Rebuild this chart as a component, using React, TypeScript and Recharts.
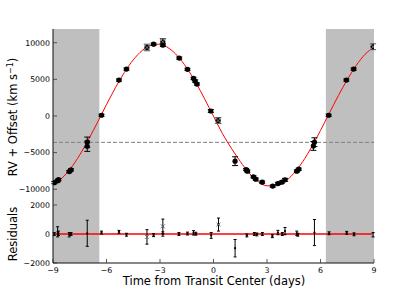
import React from 'react';
import { ComposedChart, Line, Scatter, XAxis, YAxis, ErrorBar, ReferenceLine, ReferenceArea } from 'recharts';

// axes
const xTicks = [-9, -6, -3, 0, 3, 6, 9];
const rvTicks = [-10000, -5000, 0, 5000, 10000];
const resTicks = [-2000, -1000, 0, 1000, 2000];
const xDomain = [-9, 9];
const rvDomain = [-12150, 11870];
const resDomain = [-2000, 2000];
const shadeRanges = [[-9, -6.4], [6.3, 9]];
const systemicRv = -3600;

// fitted model curve (days, km/s)
const modelTime = [-9, -8.5, -8, -7.5, -7, -6.5, -6, -5.5, -5, -4.5, -4, -3.5, -3, -2.5, -2, -1.5, -1, -0.5, 0,
  0.5, 1, 1.5, 2, 2.5, 3, 3.5, 4, 4.5, 5, 5.5, 6, 6.5, 7, 7.5, 8, 8.5, 9];
const modelRv = [-9334, -8483, -7118, -5311, -3176, -842, 1549, 3853, 5932, 7658, 8929, 9665, 9800, 9240, 8148,
  6560, 4597, 2344, -30, -2401, -4400, -6203, -7808, -8942, -9532, -9536, -8960, -7842, -6250, -4237, -1974,
  405, 2768, 4954, 6885, 8416, 9398];

// observations (filled circles)
const rvTime = [-8.93, -8.74, -8.69, -8.09, -7.99, -7.08, -7.08, -6.28, -5.3, -4.88, -3.36, -2.84, -1.92, -1.46,
  -1.12, -1.03, -0.93, -0.15, 1.21, 1.83, 1.9, 2.24, 2.37, 2.73, 3.32, 3.61, 3.83, 4.01, 4.67, 4.78, 5.6, 5.66,
  6.46, 7.45, 7.86];
const rv = [-9100, -8850, -8680, -7590, -7350, -4130, -3580, 100, 4900, 6400, 9800, 9670, 7900, 6360, 5130,
  4770, 4360, 680, -6170, -7310, -7530, -8300, -8620, -9030, -9570, -9220, -9030, -8720, -7530, -7260, -4090,
  -3580, 100, 4900, 6400];
const rvErr = [150, 150, 150, 150, 150, 700, 700, 150, 150, 150, 150, 200, 150, 150, 150, 150, 150, 200, 600,
  150, 150, 150, 150, 150, 150, 150, 150, 200, 150, 150, 600, 600, 150, 150, 150];

// observations (cross markers)
const crossTime = [-3.73, -2.84, 0.26, 8.95];
const crossRv = [9350, 10120, -620, 9450];
const crossErr = [450, 450, 400, 400];

// residuals
const resTime = [-8.93, -8.74, -8.69, -8.09, -7.99, -7.08, -6.28, -5.3, -4.88, -3.36, -2.84, -1.94, -1.46, -1.12,
  -0.99, -0.13, 1.21, 1.87, 2.29, 2.43, 2.74, 3.3, 3.61, 3.86, 4.01, 4.67, 4.73, 5.66, 6.48, 7.47, 7.88];
const res = [0, 150, 50, -50, 0, 50, 100, 150, -50, -80, 0, 0, 30, 80, 20, -100, -980, -100, 0, -30, 0, -150,
  100, 0, 200, 50, -50, 100, 50, 80, -20];
const resErr = [100, 350, 150, 150, 100, 900, 100, 100, 100, 100, 150, 100, 100, 150, 100, 200, 600, 100, 100,
  100, 100, 100, 150, 100, 250, 150, 100, 900, 100, 100, 100];
const crossResTime = [-3.73, -2.84, 0.28, 8.95];
const crossRes = [-200, 530, 650, -50];
const crossResErr = [500, 500, 450, 150];

const pts = (t: number[], v: number[], e?: number[]) => t.map((x, i) => ({ t: x, v: v[i], err: e ? e[i] : 0 }));

const FONT = '"DejaVu Sans", sans-serif';
const SPINE = { stroke: '#111', strokeWidth: 1 };
const TICK = '#333';
const fmt = (v: number) => (v < 0 ? '\u2212' + Math.abs(v) : String(v));

const LeftTick = (p: any) => (
  <g>
    <line x1={p.x + 3} x2={p.x + 7} y1={p.y} y2={p.y} stroke={TICK} strokeWidth={0.8} />
    <text x={p.x} y={p.y} dy={2.8} textAnchor="end" fontSize={7.8} fontFamily={FONT} fill="#000">
      {fmt(p.payload.value)}
    </text>
  </g>
);
const RightTick = (p: any) => <line x1={p.x - 4} x2={p.x} y1={p.y} y2={p.y} stroke={TICK} strokeWidth={0.8} />;
const TopTick = (p: any) => <line x1={p.x} x2={p.x} y1={p.y} y2={p.y + 4} stroke={TICK} strokeWidth={0.8} />;
const BottomTick = (p: any) => <line x1={p.x} x2={p.x} y1={p.y - 4} y2={p.y} stroke={TICK} strokeWidth={0.8} />;
const BottomLabelTick = (p: any) => (
  <g>
    <line x1={p.x} x2={p.x} y1={p.y - 7} y2={p.y - 3} stroke={TICK} strokeWidth={0.8} />
    <text x={p.x} y={p.y} dy={7} textAnchor="middle" fontSize={7.8} fontFamily={FONT} fill="#000">
      {fmt(p.payload.value)}
    </text>
  </g>
);

const Dot = (p: any) => <circle cx={p.cx} cy={p.cy} r={2.6} fill="#000" />;
const SmallDot = (p: any) => <circle cx={p.cx} cy={p.cy} r={1.1} fill="#000" />;
const Cross = (r: number, dot: number) => (p: any) => (
  <g>
    <circle cx={p.cx} cy={p.cy} r={dot} fill="#000" />
    <line x1={p.cx - r} x2={p.cx + r} y1={p.cy - r} y2={p.cy + r} stroke="#777" strokeWidth={1} />
    <line x1={p.cx - r} x2={p.cx + r} y1={p.cy + r} y2={p.cy - r} stroke="#777" strokeWidth={1} />
  </g>
);

export default function App() {
  const shades = shadeRanges.map(([a, b], i) => (
    <ReferenceArea key={i} x1={a} x2={b} xAxisId="b" yAxisId="l" fill="#bfbfbf" fillOpacity={1} stroke="none" />
  ));
  return (
    <div style={{ position: 'absolute', left: 0, top: 0, width: 415, height: 293, background: '#fff' }}>
      <div style={{ position: 'absolute', left: 0, top: 0 }}>
        <ComposedChart width={415} height={205} margin={{ top: 29, right: 41, bottom: 0, left: 0 }}>
          <XAxis xAxisId="b" dataKey="t" type="number" domain={xDomain} ticks={xTicks} allowDataOverflow
            height={0} axisLine={SPINE} tickLine={false} tickSize={0} tickMargin={0} tick={BottomTick} />
          <XAxis xAxisId="t" orientation="top" dataKey="t" type="number" domain={xDomain} ticks={xTicks}
            allowDataOverflow height={0} axisLine={SPINE} tickLine={false} tickSize={0} tickMargin={0} tick={TopTick} />
          <YAxis yAxisId="l" dataKey="v" type="number" domain={rvDomain} ticks={rvTicks} allowDataOverflow
            width={53} axisLine={SPINE} tickLine={false} tickSize={0} tickMargin={3} tick={LeftTick} />
          <YAxis yAxisId="r" orientation="right" dataKey="v" type="number" domain={rvDomain} ticks={rvTicks}
            allowDataOverflow width={0} axisLine={SPINE} tickLine={false} tickSize={0} tickMargin={0} tick={RightTick} />
          {shades}
          <ReferenceLine y={systemicRv} xAxisId="b" yAxisId="l" stroke="#808080" strokeDasharray="4 2" strokeWidth={1} />
          <Line data={pts(modelTime, modelRv)} dataKey="v" xAxisId="b" yAxisId="l" type="monotone" stroke="#ff0000"
            strokeWidth={1} dot={false} isAnimationActive={false} />
          <Scatter data={pts(crossTime, crossRv, crossErr)} dataKey="v" xAxisId="b" yAxisId="l" shape={Cross(3, 2.6)}
            isAnimationActive={false}>
            <ErrorBar dataKey="err" direction="y" width={3} stroke="#555" strokeWidth={1} />
          </Scatter>
          <Scatter data={pts(rvTime, rv, rvErr)} dataKey="v" xAxisId="b" yAxisId="l" shape={Dot} isAnimationActive={false}>
            <ErrorBar dataKey="err" direction="y" width={3} stroke="#000" strokeWidth={1} />
          </Scatter>
        </ComposedChart>
      </div>
      <div style={{ position: 'absolute', left: 0, top: 0 }}>
        <ComposedChart width={415} height={293} margin={{ top: 205, right: 41, bottom: 0, left: 0 }}>
          <XAxis xAxisId="b" dataKey="t" type="number" domain={xDomain} ticks={xTicks} allowDataOverflow
            height={30} axisLine={SPINE} tickLine={false} tickSize={0} tickMargin={3} tick={BottomLabelTick} />
          <XAxis xAxisId="t" orientation="top" dataKey="t" type="number" domain={xDomain} ticks={xTicks}
            allowDataOverflow height={0} axisLine={SPINE} tickLine={false} tickSize={0} tickMargin={0} tick={TopTick} />
          <YAxis yAxisId="l" dataKey="v" type="number" domain={resDomain} ticks={resTicks} allowDataOverflow
            width={53} axisLine={SPINE} tickLine={false} tickSize={0} tickMargin={3} tick={LeftTick} />
          <YAxis yAxisId="r" orientation="right" dataKey="v" type="number" domain={resDomain} ticks={resTicks}
            allowDataOverflow width={0} axisLine={SPINE} tickLine={false} tickSize={0} tickMargin={0} tick={RightTick} />
          {shades}
          <ReferenceLine y={0} xAxisId="b" yAxisId="l" stroke="#ff0000" strokeWidth={1.5} />
          <Scatter data={pts(crossResTime, crossRes, crossResErr)} dataKey="v" xAxisId="b" yAxisId="l"
            shape={Cross(2, 1.1)} isAnimationActive={false}>
            <ErrorBar dataKey="err" direction="y" width={1.5} stroke="#000" strokeWidth={1} />
          </Scatter>
          <Scatter data={pts(resTime, res, resErr)} dataKey="v" xAxisId="b" yAxisId="l" shape={SmallDot}
            isAnimationActive={false}>
            <ErrorBar dataKey="err" direction="y" width={1.5} stroke="#000" strokeWidth={1} />
          </Scatter>
        </ComposedChart>
      </div>
      <svg width={415} height={293} style={{ position: 'absolute', left: 0, top: 0, pointerEvents: 'none' }}>
        <text transform="translate(16.5,117) rotate(-90)" textAnchor="middle" fontSize={11.5} fontFamily={FONT} fill="#000">
          RV + Offset (km s<tspan dy={-4} fontSize={8}>{'\u22121'}</tspan><tspan dy={4}>)</tspan>
        </text>
        <text transform="translate(16.5,234) rotate(-90)" textAnchor="middle" fontSize={11.5} fontFamily={FONT} fill="#000">
          Residuals
        </text>
        <text x={214} y={285} textAnchor="middle" fontSize={11.5} fontFamily={FONT} fill="#000">
          Time from Transit Center (days)
        </text>
      </svg>
    </div>
  );
}
